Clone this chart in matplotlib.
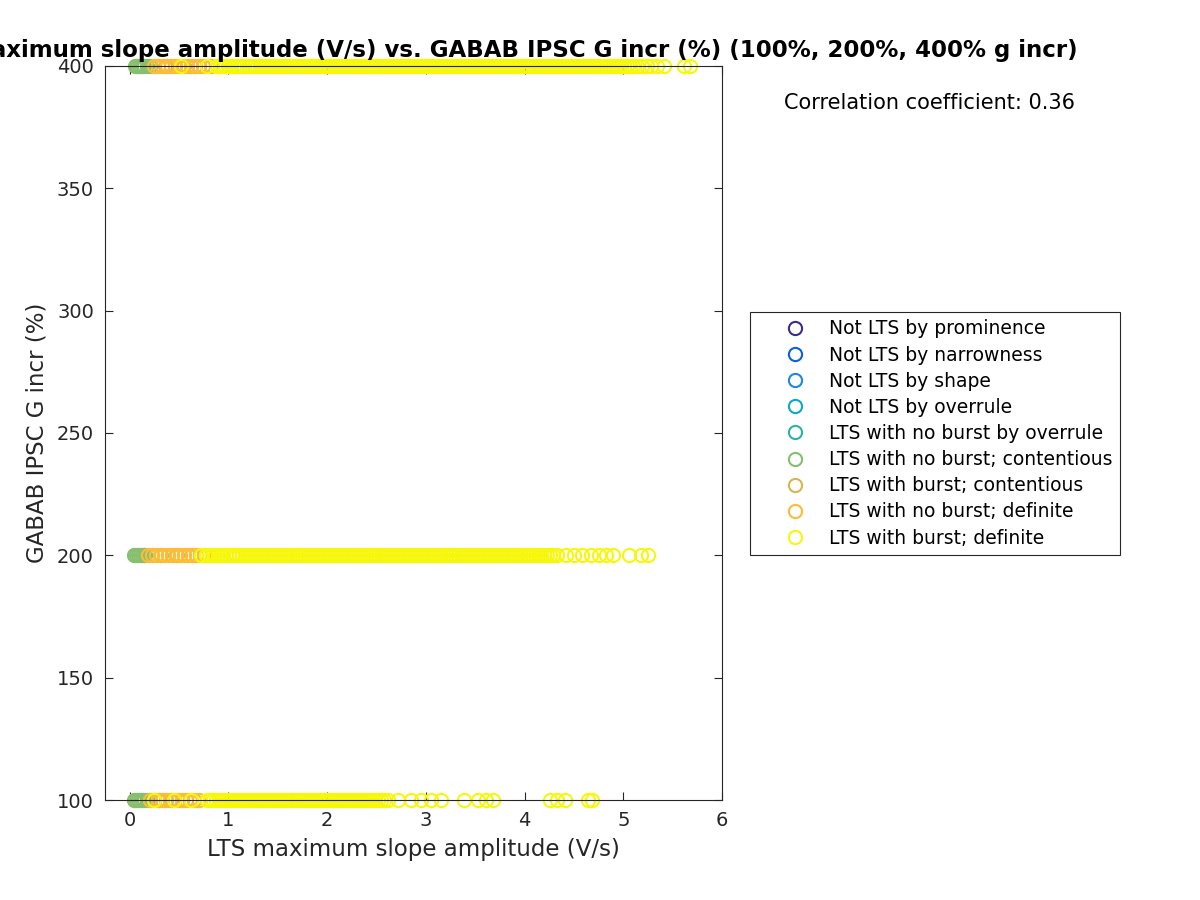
import matplotlib
matplotlib.use("Agg")
import matplotlib.pyplot as plt
from matplotlib.lines import Line2D

# ----------------------
# Data (x = LTS max slope amplitude, V/s; rows at 100/200/400 % g incr)
# ----------------------
g_levels = [100, 200, 400]

labels = [
    "Not LTS by prominence",
    "Not LTS by narrowness",
    "Not LTS by shape",
    "Not LTS by overrule",
    "LTS with no burst by overrule",
    "LTS with no burst; contentious",
    "LTS with burst; contentious",
    "LTS with no burst; definite",
    "LTS with burst; definite",
]
colors = ["#3e2a8e", "#0b5fe0", "#1e88dc", "#0fa8c8", "#2bb59f",
          "#88bf6e", "#d6b652", "#fcbd36", "#f7f70c"]

# LTS with no burst; contentious
green_100 = [0.04, 0.06, 0.08, 0.10, 0.12, 0.15, 0.18]
green_200 = [0.04, 0.06, 0.08, 0.10, 0.12, 0.14, 0.16]
green_400 = [0.05, 0.07, 0.09, 0.11, 0.13, 0.15, 0.18, 0.21]

# LTS with burst; contentious
tan_100 = [0.30, 0.42]
tan_200 = [0.32, 0.48]
tan_400 = [0.36, 0.55]

# LTS with no burst; definite
orange_100 = [0.21, 0.25, 0.29, 0.33, 0.37, 0.41, 0.45, 0.49, 0.53, 0.57,
              0.61, 0.65, 0.70]
orange_200 = [0.19, 0.23, 0.27, 0.31, 0.35, 0.39, 0.43, 0.47, 0.51, 0.55,
              0.59, 0.63, 0.67, 0.71, 0.75]
orange_400 = [0.25, 0.29, 0.33, 0.38, 0.42, 0.46, 0.50, 0.54, 0.58, 0.62,
              0.66, 0.70, 0.74, 0.78, 0.82]

# LTS with burst; definite
yellow_100 = [0.25, 0.45, 0.62,
              0.78, 0.81, 0.84, 0.87, 0.90, 0.93, 0.96, 0.99, 1.02, 1.05,
              1.08, 1.11, 1.14, 1.17, 1.20, 1.23, 1.26, 1.29, 1.32, 1.35,
              1.38, 1.41, 1.44, 1.47, 1.50, 1.53, 1.56, 1.59, 1.62, 1.65,
              1.68, 1.71, 1.74, 1.77, 1.80, 1.83, 1.86, 1.89, 1.92, 1.95,
              1.98, 2.01, 2.04, 2.07, 2.10, 2.13, 2.16, 2.19, 2.22, 2.25,
              2.28, 2.31, 2.34, 2.37, 2.40, 2.43, 2.46, 2.49, 2.52, 2.55,
              2.58, 2.62,
              2.72, 2.85, 2.95, 3.05, 3.15, 3.39, 3.53, 3.61, 3.68,
              4.26, 4.33, 4.41, 4.64, 4.68]
yellow_200 = [0.72,
              0.77, 0.80, 0.83, 0.86, 0.89, 0.92, 0.95, 0.98, 1.01, 1.04,
              1.05, 1.08, 1.11, 1.14, 1.17, 1.20, 1.23, 1.26, 1.29, 1.32,
              1.35, 1.38, 1.41, 1.44, 1.47, 1.50, 1.53, 1.56, 1.59, 1.62,
              1.65, 1.68, 1.71, 1.74, 1.77, 1.80, 1.83, 1.86, 1.89, 1.92,
              1.95, 1.98, 2.01, 2.04, 2.07, 2.10, 2.13, 2.16, 2.19, 2.22,
              2.25, 2.28, 2.31, 2.34, 2.37, 2.40, 2.43, 2.46, 2.49, 2.52,
              2.55, 2.58, 2.61, 2.64, 2.67, 2.70, 2.73, 2.76, 2.79, 2.82,
              2.85, 2.88, 2.91, 2.94, 2.97, 3.00, 3.03, 3.06, 3.09, 3.12,
              3.15, 3.18, 3.21, 3.24, 3.27, 3.30, 3.33, 3.36, 3.39, 3.42,
              3.45, 3.48, 3.51, 3.54, 3.57, 3.60, 3.63, 3.66, 3.69, 3.72,
              3.75, 3.78, 3.81, 3.84, 3.87, 3.90, 3.93, 3.96, 3.99, 4.02,
              4.05, 4.08, 4.11, 4.14, 4.17, 4.20, 4.23, 4.26, 4.29, 4.33,
              4.42, 4.50, 4.58, 4.67, 4.75, 4.83, 4.90, 5.06, 5.18, 5.25]
yellow_400 = [0.52, 0.78,
              0.88, 0.91, 0.94, 0.97, 1.00, 1.03, 1.06, 1.09, 1.12, 1.15,
              1.20, 1.23, 1.26, 1.29, 1.32, 1.35, 1.38, 1.41, 1.44, 1.47,
              1.50, 1.53, 1.56, 1.59, 1.62, 1.65, 1.68, 1.71, 1.74, 1.77,
              1.80, 1.83, 1.86, 1.89, 1.92, 1.95, 1.98, 2.01, 2.04, 2.07,
              2.10, 2.13, 2.16, 2.19, 2.22, 2.25, 2.28, 2.31, 2.34, 2.37,
              2.40, 2.43, 2.46, 2.49, 2.52, 2.55, 2.58, 2.61, 2.64, 2.67,
              2.70, 2.73, 2.76, 2.79, 2.82, 2.85, 2.88, 2.91, 2.94, 2.97,
              3.00, 3.03, 3.06, 3.09, 3.12, 3.15, 3.18, 3.21, 3.24, 3.27,
              3.30, 3.33, 3.36, 3.39, 3.42, 3.45, 3.48, 3.51, 3.54, 3.57,
              3.60, 3.63, 3.66, 3.69, 3.72, 3.75, 3.78, 3.81, 3.84, 3.87,
              3.90, 3.93, 3.96, 3.99, 4.02, 4.05, 4.08, 4.11, 4.14, 4.17,
              4.20, 4.23, 4.26, 4.29, 4.32, 4.35, 4.38, 4.41, 4.44, 4.47,
              4.50, 4.53, 4.56, 4.59, 4.62, 4.65, 4.68, 4.71, 4.74, 4.77,
              4.80, 4.83, 4.86, 4.89, 4.92, 4.95, 4.98, 5.01, 5.04, 5.07,
              5.10, 5.14, 5.19, 5.24, 5.28,
              5.34, 5.41, 5.62, 5.68]

corr_coef = 0.36

# group -> {g level: x values}; empty groups only show in the legend
groups = {
    5: {100: green_100, 200: green_200, 400: green_400},
    6: {100: tan_100, 200: tan_200, 400: tan_400},
    7: {100: orange_100, 200: orange_200, 400: orange_400},
    8: {100: yellow_100, 200: yellow_200, 400: yellow_400},
}

# ----------------------
# Figure
# ----------------------
W, H = 1200, 900
fig = plt.figure(figsize=(12, 9), dpi=100)
ax = fig.add_axes([105 / W, 100 / H, 617 / W, 734 / H])
dark = "#262626"

for i, lab in enumerate(labels):
    xs, ys = [], []
    for g in g_levels:
        vals = groups.get(i, {}).get(g, [])
        xs += vals
        ys += [g] * len(vals)
    ax.plot(xs, ys, linestyle="none", marker="o", ms=9.5, mew=1.5,
            mfc="none", mec=colors[i], label=lab, clip_on=False)

ax.set_xlim(-0.25, 6)
ax.set_ylim(100, 400)
ax.set_xticks(range(0, 7))
ax.set_yticks([100, 150, 200, 250, 300, 350, 400])
ax.tick_params(direction="in", top=True, right=True, labelsize=14,
               colors=dark, length=6, pad=8)
for s in ax.spines.values():
    s.set_color(dark)
ax.set_xlabel("LTS maximum slope amplitude (V/s)", fontsize=16.5,
              color=dark, labelpad=6)
ax.set_ylabel("GABAB IPSC G incr (%)", fontsize=16.5, color=dark,
              labelpad=6)

# title is wider than the figure in the original, so it runs off the left edge
fig.text(1078 / W, 1 - 57 / H,
         "LTS maximum slope amplitude (V/s) vs. GABAB IPSC G incr (%) "
         "(100%, 200%, 400% g incr)", ha="right", va="baseline",
         fontsize=16.5, fontweight="bold")

fig.text(930 / W, 1 - 103 / H, f"Correlation coefficient: {corr_coef:.2f}",
         ha="center", va="center", fontsize=15)

handles = [Line2D([], [], linestyle="none", marker="o", ms=9.5, mew=1.5,
                  mfc="none", mec=c) for c in colors]
leg = fig.legend(handles, labels, loc="upper left",
                 bbox_to_anchor=(750 / W, 1 - 312 / H),
                 fontsize=13.5, frameon=True, fancybox=False, framealpha=1,
                 edgecolor=dark, labelspacing=0.38, handletextpad=-0.2,
                 handlelength=4.0, borderpad=0.4, borderaxespad=0)
leg.get_frame().set_linewidth(0.8)

fig.savefig("out.png", dpi=100)
